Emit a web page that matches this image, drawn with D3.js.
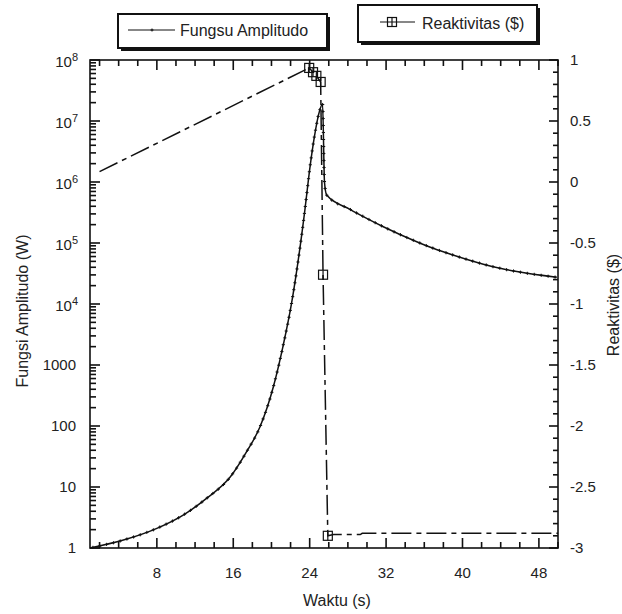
<!DOCTYPE html>
<html>
<head>
<meta charset="utf-8">
<script src="https://cdn.jsdelivr.net/npm/d3@7"></script>
<style>
body { margin: 0; background: #fff; }
text { font-family: "Liberation Sans", Arial, sans-serif; fill: #222; }
</style>
</head>
<body>
<svg id="chart" width="622" height="614"></svg>
<script>
// amplitude (W), log axis
var ampTime = [1, 4.5, 8, 10.8, 13.2, 15.7, 17.4, 18.8, 20.2, 21.2, 22.1, 22.8, 23.5, 24.0, 24.5, 25.0, 25.35, 25.55, 25.78, 28.22, 29.97, 31.71, 35.21, 36.94, 38.69, 42.18, 43.93, 45.68, 49.86];
var ampValue = [1, 1.35, 2.1, 3.5, 6.5, 14.7, 38, 97, 440, 2000, 1.02e4, 5.2e4, 3.5e5, 1.6e6, 5.6e6, 1.4e7, 1.9e7, 1.0e6, 6.1e5, 3.57e5, 2.54e5, 1.85e5, 1.05e5, 8.2e4, 6.6e4, 4.5e4, 3.85e4, 3.4e4, 2.74e4];

// reactivity ($), right axis
var reaTime = [2, 23.95, 24.35, 24.7, 25.15, 25.4, 25.9, 26.5, 29.3, 29.5, 50];
var reaValue = [0.085, 0.935, 0.9, 0.87, 0.82, -0.76, -2.9, -2.89, -2.89, -2.88, -2.88];
var reaMarkTime = [23.95, 24.35, 24.7, 25.15, 25.4, 25.9];
var reaMarkValue = [0.935, 0.9, 0.87, 0.82, -0.76, -2.9];

var xTicks = [8, 16, 24, 32, 40, 48];
var yLeftTicks = [1, 10, 100, 1000, 1e4, 1e5, 1e6, 1e7, 1e8];
var yRightTicks = [1, 0.5, 0, -0.5, -1, -1.5, -2, -2.5, -3];

var svg = d3.select('#chart');
var padL = 90, padR = 558, padT = 60, padB = 548;
var ink = '#111';

var x = d3.scaleLinear().domain([1, 50]).range([padL, padR]);
var y = d3.scaleLog().domain([1, 1e8]).range([padB, padT]);
var y2 = d3.scaleLinear().domain([-3, 1]).range([padB, padT]);

// minor tick values
var xMinor = d3.range(2, 51, 2).filter(function(d) { return xTicks.indexOf(d) === -1; });
var yMinor = [];
yLeftTicks.slice(0, -1).forEach(function(dec) {
    for (var k = 2; k <= 9; k++) yMinor.push(dec * k);
});
var y2Minor = d3.range(-29, 10).map(function(d) { return d / 10; })
    .filter(function(d) { return Math.abs(d * 2 - Math.round(d * 2)) > 1e-6; });

// tick labels
svg.append('g').selectAll('text').data(xTicks).enter().append('text')
    .attr('x', function(d) { return x(d); })
    .attr('y', 578)
    .attr('text-anchor', 'middle')
    .attr('font-size', 15)
    .text(function(d) { return d; });

var leftLabels = svg.append('g');
yLeftTicks.forEach(function(v) {
    var e = Math.round(Math.log10(v));
    var t = leftLabels.append('text')
        .attr('text-anchor', 'end')
        .attr('font-size', 15)
        .attr('y', y(v));
    if (e < 4) {
        t.attr('x', 76).attr('dy', '0.35em').text(String(v));
    } else {
        t.attr('x', 78).attr('dy', '0.45em');
        t.append('tspan').text('10');
        t.append('tspan').attr('font-size', 11).attr('dy', '-0.55em').text(e);
    }
});

svg.append('g').selectAll('text').data(yRightTicks).enter().append('text')
    .attr('x', 570)
    .attr('y', function(d) { return y2(d); })
    .attr('dy', '0.35em')
    .attr('font-size', 15)
    .text(function(d) { return String(d); });

// amplitude line
var ampData = ampTime.map(function(t, i) { return [t, ampValue[i]]; });
var ampLine = d3.line()
    .x(function(d) { return x(d[0]); })
    .y(function(d) { return y(d[1]); })
    .curve(d3.curveMonotoneX);
var ampPath = svg.append('path')
    .datum(ampData)
    .attr('d', ampLine)
    .attr('fill', 'none')
    .attr('stroke', ink)
    .attr('stroke-width', 1.5);

// small notches along the amplitude trace
var node = ampPath.node(), total = node.getTotalLength();
var notch = '';
for (var s = 3; s < total; s += 7) {
    var p = node.getPointAtLength(s);
    notch += 'M' + (p.x - 1.6) + ',' + p.y + 'h3.2M' + p.x + ',' + (p.y - 1.6) + 'v3.2';
}
svg.append('path').attr('d', notch).attr('fill', 'none').attr('stroke', ink).attr('stroke-width', 1);

// reactivity line
var reaData = reaTime.map(function(t, i) { return [t, reaValue[i]]; });
svg.append('path')
    .datum(reaData)
    .attr('d', d3.line()
        .x(function(d) { return x(d[0]); })
        .y(function(d) { return y2(d[1]); }))
    .attr('fill', 'none')
    .attr('stroke', ink)
    .attr('stroke-width', 1.5)
    .attr('stroke-dasharray', '20,5,5,5');

function squareMark(g, cx, cy) {
    g.append('rect')
        .attr('x', cx - 4.5).attr('y', cy - 4.5)
        .attr('width', 9).attr('height', 9)
        .attr('fill', 'none').attr('stroke', ink).attr('stroke-width', 1.2);
    g.append('line')
        .attr('x1', cx).attr('x2', cx).attr('y1', cy - 4.5).attr('y2', cy + 4.5)
        .attr('stroke', ink).attr('stroke-width', 1.2);
}

var marks = svg.append('g');
reaMarkTime.forEach(function(t, i) {
    squareMark(marks, x(t), y2(reaMarkValue[i]));
});

// frame
svg.append('rect')
    .attr('x', padL).attr('y', padT)
    .attr('width', padR - padL).attr('height', padB - padT)
    .attr('fill', 'none').attr('stroke', ink).attr('stroke-width', 1.6);

// inward ticks as small filled rects
var tickG = svg.append('g').attr('fill', ink);
function vTicks(vals, y0, size) {
    vals.forEach(function(d) {
        tickG.append('rect')
            .attr('x', x(d) - 0.8).attr('width', 1.6)
            .attr('y', size < 0 ? y0 + size : y0).attr('height', Math.abs(size));
    });
}
function hTicks(vals, scale, x0, size) {
    vals.forEach(function(d) {
        tickG.append('rect')
            .attr('y', scale(d) - 0.8).attr('height', 1.6)
            .attr('x', size < 0 ? x0 + size : x0).attr('width', Math.abs(size));
    });
}

vTicks(xMinor, padB, -6);
vTicks(xTicks, padB, -10);
vTicks(xMinor, padT, 6);
vTicks(xTicks, padT, 10);
hTicks(yMinor, y, padL, 6);
hTicks(yLeftTicks, y, padL, 10);
hTicks(y2Minor, y2, padR, -5);
hTicks(yRightTicks, y2, padR, -9);

// axis titles
svg.append('text')
    .attr('x', 337).attr('y', 606)
    .attr('text-anchor', 'middle').attr('font-size', 16)
    .text('Waktu (s)');
svg.append('text')
    .attr('transform', 'translate(28,311) rotate(-90)')
    .attr('text-anchor', 'middle').attr('font-size', 16)
    .text('Fungsi Amplitudo (W)');
svg.append('text')
    .attr('transform', 'translate(619,305) rotate(-90)')
    .attr('text-anchor', 'middle').attr('font-size', 16)
    .text('Reaktivitas ($)');

// legends
function legendBox(bx, by, bw, bh) {
    svg.append('rect').attr('x', bx + 3).attr('y', by + 3)
        .attr('width', bw).attr('height', bh).attr('fill', '#111');
    svg.append('rect').attr('x', bx).attr('y', by)
        .attr('width', bw).attr('height', bh)
        .attr('fill', '#fff').attr('stroke', '#111').attr('stroke-width', 2);
}

legendBox(118, 14, 209, 34);
svg.append('line').attr('x1', 128).attr('x2', 175).attr('y1', 30).attr('y2', 30)
    .attr('stroke', ink).attr('stroke-width', 1.2);
svg.append('path').attr('d', 'M150.5,30h3M152,28.5v3').attr('stroke', ink).attr('stroke-width', 1);
svg.append('text').attr('x', 180).attr('y', 36).attr('font-size', 16).text('Fungsu Amplitudo');

legendBox(358, 5, 179, 37);
svg.append('line').attr('x1', 380).attr('x2', 415).attr('y1', 22).attr('y2', 22)
    .attr('stroke', ink).attr('stroke-width', 1.2);
squareMark(svg.append('g'), 392, 22);
svg.append('text').attr('x', 422).attr('y', 29).attr('font-size', 16).text('Reaktivitas ($)');
</script>
</body>
</html>
